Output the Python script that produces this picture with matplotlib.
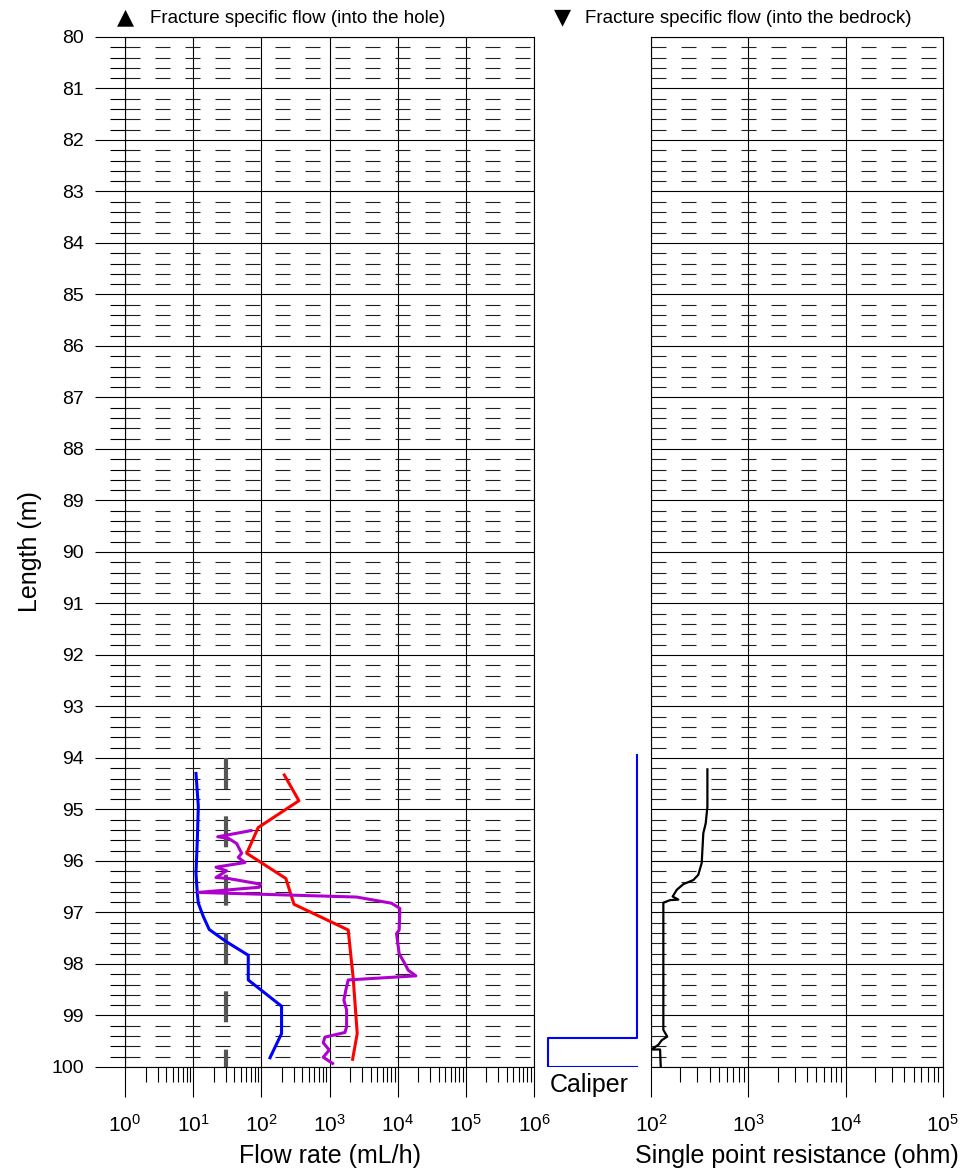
import numpy as np
import matplotlib
matplotlib.use("Agg")
import matplotlib.pyplot as plt
from matplotlib.ticker import LogLocator, MultipleLocator, NullFormatter

plt.rcParams['font.family'] = ['Liberation Sans', 'DejaVu Sans']
plt.rcParams['mathtext.fontset'] = 'custom'
plt.rcParams['mathtext.rm'] = 'Liberation Sans'
plt.rcParams['mathtext.it'] = 'Liberation Sans:italic'
plt.rcParams['mathtext.bf'] = 'Liberation Sans:bold'
plt.rcParams['lines.scale_dashes'] = False

# flow logs, depth in m and flow in mL/h
blue_depth = [94.30, 94.94, 95.59, 96.24, 96.63, 96.82, 97.08, 97.33, 97.57, 97.83, 98.31, 98.82, 99.35, 99.82]
blue_flow = [11.0, 11.9, 11.5, 11.0, 11.5, 11.9, 14.1, 17.2, 30.9, 64.3, 64.3, 198, 198, 134]

red_depth = [94.33, 94.83, 95.35, 95.85, 96.34, 96.84, 97.34, 98.28, 99.35, 99.85]
red_flow = [217, 356, 90, 61, 229, 301, 1880, 2228, 2550, 2183]

purple_depth = [95.41, 95.53, 95.56, 95.66, 95.85, 95.93, 96.03, 96.12, 96.19, 96.32, 96.34, 96.45,
                96.51, 96.61, 96.70, 96.82, 96.92, 97.34, 97.41, 97.80, 97.96, 98.12, 98.23, 98.31,
                98.50, 98.70, 98.89, 99.22, 99.33, 99.42, 99.53, 99.67, 99.81, 99.93]
purple_flow = [70.4, 22.9, 32.8, 43.4, 51.4, 45.9, 57.5, 21.6, 30.9, 21.6, 32.8, 97.5,
               93, 11.9, 2495, 8130, 10770, 10520, 9620, 10520, 12330, 14260, 18490, 1880,
               1740, 1625, 1780, 1780, 1683, 857, 809, 991, 809, 1110]

# lower measurement limit
limit_depth = [94.0, 100.0]
limit_flow = [30, 30]

# caliper (mm)
caliper_depth = [93.94, 99.44, 99.44, 100.0, 100.0]
caliper_diam = [76, 76, 56, 56, 76]

# single point resistance, ohm
res_depth = [94.22, 94.95, 95.27, 95.46, 96.04, 96.27, 96.37, 96.45, 96.56, 96.69, 96.75, 96.76,
             96.81, 99.28, 99.41, 99.48, 99.57, 99.66, 99.66, 100.0]
res_ohm = [380, 380, 365, 345, 332, 306, 272, 215, 184, 167, 191, 157,
           134, 134, 147, 129, 119, 101, 124, 126]

depth_top, depth_bottom = 80, 100

fig = plt.figure(figsize=(9.69, 11.69), dpi=100)
ax_flow = fig.add_axes([0.1290, 0.08726, 0.4221, 0.8811])
ax_cal = fig.add_axes([0.5531, 0.08726, 0.1166, 0.8811])
ax_res = fig.add_axes([0.6718, 0.08726, 0.3013, 0.8811])


def style_log_panel(ax, xmin, xmax, show_y):
    ax.set_xscale('log')
    ax.set_xlim(xmin, xmax)
    ax.set_ylim(depth_bottom, depth_top)
    ax.xaxis.set_major_locator(LogLocator(base=10, numticks=20))
    ax.xaxis.set_minor_locator(LogLocator(base=10, subs=np.arange(2, 10), numticks=20))
    ax.xaxis.set_minor_formatter(NullFormatter())
    ax.yaxis.set_major_locator(MultipleLocator(1))
    ax.yaxis.set_minor_locator(MultipleLocator(0.2))
    ax.grid(which='major', color='black', lw=0.8)
    ax.grid(which='minor', axis='y', color='#222222', lw=0.8, linestyle=(0, (10.8, 10.8)))
    ax.tick_params(axis='x', which='major', direction='out', length=21.6, width=0.8,
                   labelsize=15, pad=12)
    ax.tick_params(axis='x', which='minor', direction='out', length=10.5, width=0.8)
    if show_y:
        ax.tick_params(axis='y', which='major', direction='out', length=21.6, width=0.8,
                       labelsize=14, pad=8)
        ax.tick_params(axis='y', which='minor', direction='out', length=10.8, width=0.8)
    else:
        ax.tick_params(axis='y', which='both', length=0, labelleft=False)
    for s in ax.spines.values():
        s.set_linewidth(0.8)


style_log_panel(ax_flow, 1, 1e6, True)
ax_flow.plot(limit_flow, limit_depth, color='#555555', lw=3, linestyle=(0, (22.3, 19.7)))
ax_flow.plot(blue_flow, blue_depth, color='#0000ff', lw=2.2)
ax_flow.plot(red_flow, red_depth, color='#ff0000', lw=2.2)
ax_flow.plot(purple_flow, purple_depth, color='#b000d0', lw=2.2)
ax_flow.set_xlabel('Flow rate (mL/h)', fontsize=18, labelpad=6)
ax_flow.set_ylabel('Length (m)', fontsize=18, labelpad=7)

style_log_panel(ax_res, 1e2, 1e5, False)
ax_res.plot(res_ohm, res_depth, color='black', lw=1.6)
ax_res.set_xlabel('Single point resistance (ohm)', fontsize=18, labelpad=6)

ax_cal.set_xlim(53.3, 78.7)
ax_cal.set_ylim(depth_bottom, depth_top)
ax_cal.axis('off')
ax_cal.plot(caliper_diam, caliper_depth, color='#0000ff', lw=1.5)
ax_cal.text(0.47, -0.006, 'Caliper', transform=ax_cal.transAxes, ha='center', va='top', fontsize=18)

# legend markers for fracture specific flow
base_y = 1 - 23 / 1169
fig.text(117 / 969, base_y, '\u25b2', fontsize=16, family=['DejaVu Sans'], va='baseline')
fig.text(150 / 969, base_y, 'Fracture specific flow (into the hole)', fontsize=13.5, va='baseline')
fig.text(554 / 969, base_y, '\u25bc', fontsize=16, family=['DejaVu Sans'], va='baseline')
fig.text(585 / 969, base_y, 'Fracture specific flow (into the bedrock)', fontsize=13.5, va='baseline')

fig.savefig('out.png', dpi=100)
